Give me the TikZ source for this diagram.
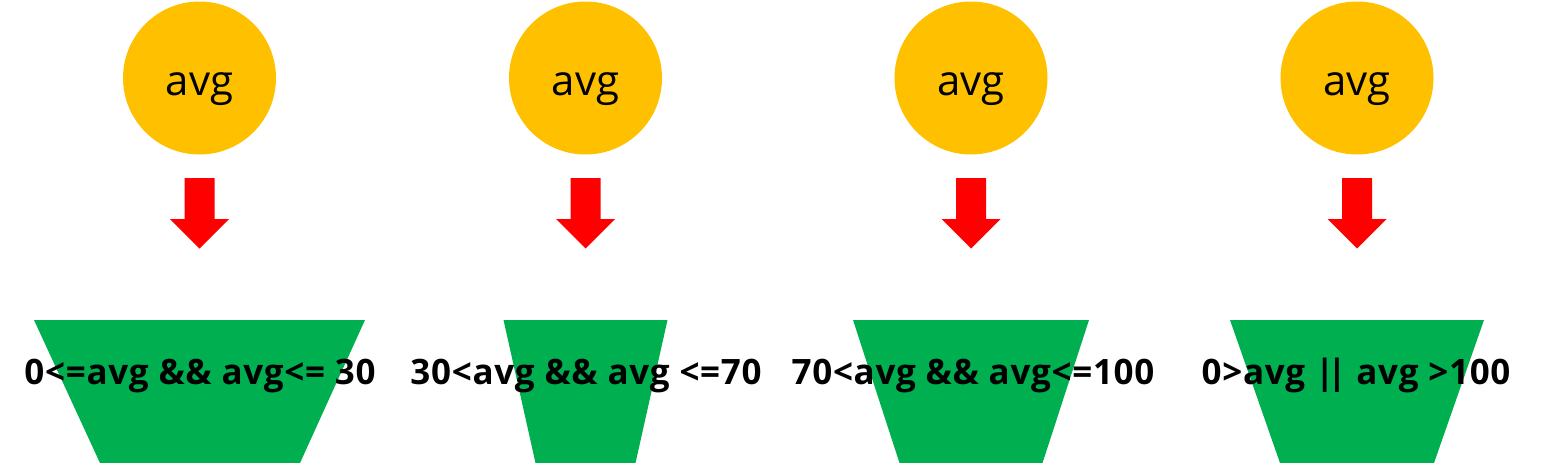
\documentclass[tikz,border=0pt]{standalone}
\usepackage{fontspec}
\setmainfont{Open Sans}
\definecolor{avgyellow}{HTML}{FFC000}
\definecolor{arrowred}{HTML}{FF0000}
\definecolor{trapgreen}{HTML}{00B050}
\tikzset{
  avgcircle/.style={circle, fill=avgyellow, minimum size=153pt, inner sep=0pt},
  avglabel/.style={anchor=base, inner sep=0pt, font=\fontsize{42}{50}\selectfont},
  condtext/.style={anchor=base, inner sep=0pt, font=\fontsize{35}{42}\selectfont\bfseries\addfontfeatures{LetterSpace=2}},
  trap/.style={fill=trapgreen},
  pics/downarrow/.style={code={
    \fill[arrowred] (-15,0) -- (15,0) -- (15,41) -- (29.5,41) -- (0,70.5)
      -- (-29.5,41) -- (-15,41) -- cycle;}}
}
\begin{document}
\begin{tikzpicture}[x=1pt,y=-1pt]
\useasboundingbox (0,0) rectangle (1553,463);
% circles
\foreach \i/\x in {1/199.5,2/585.5,3/971,4/1357}{
  \node[avgcircle] (c\i) at (\x,78) {};
  \node[avglabel] (l\i) at ([yshift=-17pt]c\i.center) {avg};
  \pic (a\i) at (\x,178) {downarrow};
}
% trapezoids
\fill[trap] (34,320) -- (365,320) -- (300,463) -- (100,463) -- cycle;
\fill[trap] (503.5,320) -- (667.5,320) -- (635.5,463) -- (535.5,463) -- cycle;
\fill[trap] (853,320) -- (1089,320) -- (1042.5,463) -- (899.5,463) -- cycle;
\fill[trap] (1230,320) -- (1484,320) -- (1434,463) -- (1280,463) -- cycle;
% conditions
\node[condtext] (t1) at (200,384) {0<=avg \&\& avg<= 30};
\node[condtext] (t2) at (586,384) {30<avg \&\& avg <=70};
\node[condtext] (t3) at (973,384) {70<avg \&\& avg<=100};
\node[condtext] (t4) at (1356,384) {0>avg |\kern-7pt| avg >100};
\end{tikzpicture}
\end{document}
